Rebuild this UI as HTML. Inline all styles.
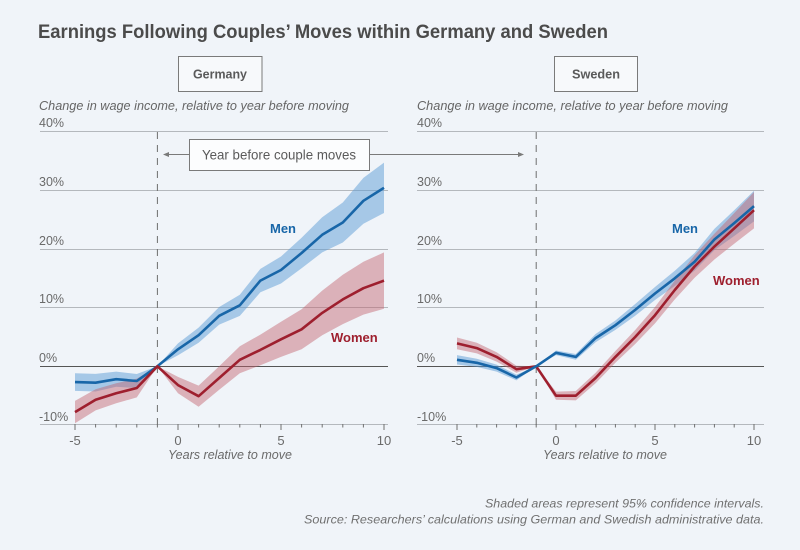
<!DOCTYPE html>
<html><head><meta charset="utf-8"><style>
html,body{margin:0;padding:0;background:#f0f4f9;}
svg{display:block;}
text{font-family:"Liberation Sans",sans-serif;}
</style></head><body>
<svg width="800" height="550" viewBox="0 0 800 550" xmlns="http://www.w3.org/2000/svg">
<rect width="800" height="550" fill="#f0f4f9"/>
<text x="38" y="38" font-size="19.5" font-weight="bold" fill="#4b4b4b" textLength="570" lengthAdjust="spacingAndGlyphs">Earnings Following Couples’ Moves within Germany and Sweden</text>

<!-- panel boxes -->
<rect x="178.5" y="56.5" width="83.5" height="35" fill="#f7f9fb" stroke="#7a7a7a" stroke-width="1"/>
<text x="220" y="78.5" font-size="13" fill="#5a5a5a" text-anchor="middle" font-weight="bold" textLength="54" lengthAdjust="spacingAndGlyphs">Germany</text>
<rect x="554.5" y="56.5" width="83" height="35" fill="#f7f9fb" stroke="#7a7a7a" stroke-width="1"/>
<text x="596" y="78.5" font-size="13" fill="#5a5a5a" text-anchor="middle" font-weight="bold" textLength="48" lengthAdjust="spacingAndGlyphs">Sweden</text>

<!-- axis titles -->
<text x="39" y="110" font-size="13" font-style="italic" fill="#666" textLength="310" lengthAdjust="spacingAndGlyphs">Change in wage income, relative to year before moving</text>
<text x="417" y="110" font-size="13" font-style="italic" fill="#666" textLength="311" lengthAdjust="spacingAndGlyphs">Change in wage income, relative to year before moving</text>

<!-- gridlines -->
<g stroke="#b4b8bd" stroke-width="1">
<line x1="40" x2="388" y1="131.5" y2="131.5"/>
<line x1="40" x2="388" y1="190.5" y2="190.5"/>
<line x1="40" x2="388" y1="249.5" y2="249.5"/>
<line x1="40" x2="388" y1="307.5" y2="307.5"/>
<line x1="40" x2="388" y1="424.5" y2="424.5"/>
<line x1="417" x2="764" y1="131.5" y2="131.5"/>
<line x1="417" x2="764" y1="190.5" y2="190.5"/>
<line x1="417" x2="764" y1="249.5" y2="249.5"/>
<line x1="417" x2="764" y1="307.5" y2="307.5"/>
<line x1="417" x2="764" y1="424.5" y2="424.5"/>
</g>
<line x1="40" x2="388" y1="366.5" y2="366.5" stroke="#555" stroke-width="1"/>
<line x1="417" x2="764" y1="366.5" y2="366.5" stroke="#555" stroke-width="1"/>

<!-- y labels -->
<g font-size="12.5" fill="#6a6a6a">
<text x="39" y="127">40%</text>
<text x="39" y="186">30%</text>
<text x="39" y="245">20%</text>
<text x="39" y="303">10%</text>
<text x="39" y="362">0%</text>
<text x="39" y="421">-10%</text>
<text x="417" y="127">40%</text>
<text x="417" y="186">30%</text>
<text x="417" y="245">20%</text>
<text x="417" y="303">10%</text>
<text x="417" y="362">0%</text>
<text x="417" y="421">-10%</text>
</g>

<!-- ticks -->
<g stroke="#707070" stroke-width="1">
<line x1="75" x2="75" y1="424" y2="430"/><line x1="95.6" x2="95.6" y1="424" y2="427.5"/><line x1="116.2" x2="116.2" y1="424" y2="427.5"/><line x1="136.8" x2="136.8" y1="424" y2="427.5"/><line x1="157.4" x2="157.4" y1="424" y2="427.5"/><line x1="178" x2="178" y1="424" y2="430"/><line x1="198.6" x2="198.6" y1="424" y2="427.5"/><line x1="219.2" x2="219.2" y1="424" y2="427.5"/><line x1="239.8" x2="239.8" y1="424" y2="427.5"/><line x1="260.4" x2="260.4" y1="424" y2="427.5"/><line x1="281" x2="281" y1="424" y2="430"/><line x1="301.6" x2="301.6" y1="424" y2="427.5"/><line x1="322.2" x2="322.2" y1="424" y2="427.5"/><line x1="342.8" x2="342.8" y1="424" y2="427.5"/><line x1="363.4" x2="363.4" y1="424" y2="427.5"/><line x1="384" x2="384" y1="424" y2="430"/>
<line x1="457" x2="457" y1="424" y2="430"/><line x1="476.8" x2="476.8" y1="424" y2="427.5"/><line x1="496.6" x2="496.6" y1="424" y2="427.5"/><line x1="516.4" x2="516.4" y1="424" y2="427.5"/><line x1="536.2" x2="536.2" y1="424" y2="427.5"/><line x1="556" x2="556" y1="424" y2="430"/><line x1="575.8" x2="575.8" y1="424" y2="427.5"/><line x1="595.6" x2="595.6" y1="424" y2="427.5"/><line x1="615.4" x2="615.4" y1="424" y2="427.5"/><line x1="635.2" x2="635.2" y1="424" y2="427.5"/><line x1="655" x2="655" y1="424" y2="430"/><line x1="674.8" x2="674.8" y1="424" y2="427.5"/><line x1="694.6" x2="694.6" y1="424" y2="427.5"/><line x1="714.4" x2="714.4" y1="424" y2="427.5"/><line x1="734.2" x2="734.2" y1="424" y2="427.5"/><line x1="754" x2="754" y1="424" y2="430"/>
</g>

<!-- x labels -->
<g font-size="13" fill="#6a6a6a" text-anchor="middle">
<text x="75" y="445">-5</text><text x="178" y="445">0</text><text x="281" y="445">5</text><text x="384" y="445">10</text>
<text x="457" y="445">-5</text><text x="556" y="445">0</text><text x="655" y="445">5</text><text x="754" y="445">10</text>
</g>
<text x="230" y="459" font-size="13" font-style="italic" fill="#6a6a6a" text-anchor="middle" textLength="124" lengthAdjust="spacingAndGlyphs">Years relative to move</text>
<text x="605" y="459" font-size="13" font-style="italic" fill="#6a6a6a" text-anchor="middle" textLength="124" lengthAdjust="spacingAndGlyphs">Years relative to move</text>

<!-- dashed reference lines -->
<line x1="157.4" x2="157.4" y1="132" y2="430" stroke="#6e6e6e" stroke-width="1" stroke-dasharray="7,6"/>
<line x1="536.2" x2="536.2" y1="132" y2="430" stroke="#6e6e6e" stroke-width="1" stroke-dasharray="7,6"/>

<!-- Germany bands -->
<polygon fill="#5b9bd5" fill-opacity="0.5" points="75,373.3 95.6,373.9 116.2,371.6 136.8,374.0 157.4,366.3 178,343.4 198.6,327.6 219.2,307.0 239.8,294.7 260.4,268.9 281,256.5 301.6,237.7 322.2,217.2 342.8,202.5 363.4,177.9 384,162.6 384,213.0 363.4,223.7 342.8,242.5 322.2,252.4 301.6,268.3 281,283.5 260.4,292.3 239.8,315.9 219.2,324.6 198.6,342.8 178,355.2 157.4,366.3 136.8,388.0 116.2,386.8 95.6,391.5 75,390.9"/>
<polygon fill="#c0606b" fill-opacity="0.45" points="75,400.9 95.6,389.2 116.2,383.3 136.8,378.6 157.4,366.3 178,376.9 198.6,385.6 219.2,366.3 239.8,346.3 260.4,334.6 281,321.7 301.6,309.3 322.2,290.6 342.8,274.7 363.4,261.8 384,252.4 384,308.8 363.4,314.6 342.8,324.1 322.2,335.2 301.6,349.3 281,356.9 260.4,365.2 239.8,373.3 219.2,389.7 198.6,406.8 178,393.3 157.4,366.3 136.8,397.4 116.2,403.3 95.6,410.4 75,423.3"/>
<polyline fill="none" stroke="#1866a8" stroke-width="2.6" stroke-linejoin="round" points="75,382.1 95.6,382.7 116.2,379.2 136.8,381.0 157.4,366.3 178,349.3 198.6,335.2 219.2,315.8 239.8,305.3 260.4,280.6 281,270.0 301.6,253.0 322.2,234.8 342.8,222.5 363.4,200.8 384,187.8"/>
<polyline fill="none" stroke="#9e1f2e" stroke-width="2.6" stroke-linejoin="round" points="75,412.1 95.6,399.8 116.2,393.3 136.8,388.0 157.4,366.3 178,385.1 198.6,396.2 219.2,378.0 239.8,359.8 260.4,349.9 281,339.3 301.6,329.3 322.2,312.9 342.8,299.4 363.4,288.2 384,280.6"/>

<!-- Sweden bands -->
<polygon fill="#5b9bd5" fill-opacity="0.5" points="457,355.1 476.8,358.7 496.6,364.6 516.4,374.6 536.2,366.3 556,350.5 575.8,354.0 595.6,334.0 615.4,320.5 635.2,304.0 655,287.0 674.8,270.7 694.6,253.0 714.4,228.9 734.2,210.2 754,190.8 754,221.4 734.2,236.0 714.4,250.1 694.6,270.6 674.8,285.9 655,300.0 635.2,315.8 615.4,329.9 595.6,342.2 575.8,359.8 556,355.1 536.2,366.3 516.4,380.4 496.6,371.6 476.8,366.9 457,364.5"/>
<polygon fill="#c0606b" fill-opacity="0.45" points="457,337.5 476.8,342.8 496.6,352.2 516.4,365.7 536.2,366.3 556,391.6 575.8,391.0 595.6,372.7 615.4,351.0 635.2,330.0 655,307.0 674.8,280.6 694.6,255.3 714.4,233.7 734.2,213.1 754,192.0 754,228.4 734.2,243.7 714.4,259.5 694.6,277.7 674.8,299.4 655,323.4 635.2,344.0 615.4,362.8 595.6,383.3 575.8,400.4 556,399.8 536.2,366.3 516.4,372.7 496.6,361.6 476.8,353.4 457,349.3"/>
<polyline fill="none" stroke="#9e1f2e" stroke-width="2.6" stroke-linejoin="round" points="457,343.4 476.8,348.1 496.6,356.9 516.4,369.2 536.2,366.3 556,395.7 575.8,395.7 595.6,378.0 615.4,356.9 635.2,337.0 655,315.2 674.8,290.0 694.6,266.5 714.4,246.6 734.2,228.4 754,210.2"/>
<polyline fill="none" stroke="#1866a8" stroke-width="2.6" stroke-linejoin="round" points="457,359.8 476.8,362.8 496.6,368.1 516.4,377.5 536.2,366.3 556,352.8 575.8,356.9 595.6,338.1 615.4,325.2 635.2,309.9 655,293.5 674.8,278.3 694.6,261.8 714.4,239.5 734.2,223.1 754,206.1"/>

<!-- series labels -->
<g font-size="13" font-weight="bold">
<text x="270" y="233" fill="#1866a8">Men</text>
<text x="331" y="342" fill="#9e1f2e">Women</text>
<text x="672" y="233" fill="#1866a8">Men</text>
<text x="713" y="285" fill="#9e1f2e">Women</text>
</g>

<!-- annotation -->
<line x1="166" x2="189" y1="154.5" y2="154.5" stroke="#7a7a7a" stroke-width="1"/>
<polygon points="163,154.5 169,152 169,157" fill="#7a7a7a"/>
<line x1="369" x2="521" y1="154.5" y2="154.5" stroke="#7a7a7a" stroke-width="1"/>
<polygon points="524,154.5 518,152 518,157" fill="#7a7a7a"/>
<rect x="189.5" y="139.5" width="180" height="31" fill="#fcfdfe" stroke="#7a7a7a" stroke-width="1"/>
<text x="279" y="159.5" font-size="14" fill="#5a5a5a" text-anchor="middle" textLength="154" lengthAdjust="spacingAndGlyphs">Year before couple moves</text>

<!-- footer -->
<text x="764" y="507.5" font-size="12" font-style="italic" fill="#707070" text-anchor="end" textLength="279" lengthAdjust="spacingAndGlyphs">Shaded areas represent 95% confidence intervals.</text>
<text x="764" y="523.5" font-size="12" font-style="italic" fill="#707070" text-anchor="end" textLength="460" lengthAdjust="spacingAndGlyphs">Source: Researchers’ calculations using German and Swedish administrative data.</text>
</svg>
</body></html>
